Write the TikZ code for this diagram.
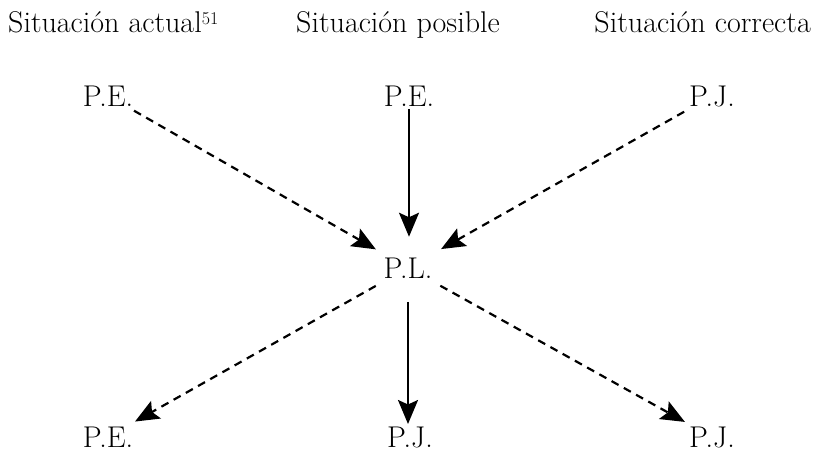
\documentclass[tikz,border=0pt]{standalone}
\usetikzlibrary{arrows.meta}
\begin{document}
\begin{tikzpicture}[x=1pt,y=-1pt,
  lbl/.style={inner sep=0pt,anchor=base,font=\fontsize{30}{34}\selectfont},
  ttl/.style={inner sep=0pt,font=\fontsize{30}{34}\selectfont},
  conn/.style={line width=2.2pt,-{Stealth[length=24pt,width=20pt,inset=4.5pt]}},
  dconn/.style={conn,dash pattern=on 8pt off 6pt}]
\useasboundingbox (0,0) rectangle (816,452);
\node[ttl,anchor=base west] (t1) at (8,33) {Situación actual\raisebox{8pt}{\fontsize{18}{18}\selectfont 51}};
\node[ttl,anchor=base] (t2) at (398,33) {Situación posible};
\node[ttl,anchor=base east] (t3) at (811,33) {Situación correcta};
\node[lbl] (pe1) at (108,106) {P.E.};
\node[lbl] (pe2) at (409,106) {P.E.};
\node[lbl] (pj1) at (712,106) {P.J.};
\node[lbl] (pl) at (408,278) {P.L.};
\node[lbl] (pe3) at (108,447) {P.E.};
\node[lbl] (pj2) at (410,447) {P.J.};
\node[lbl] (pj3) at (712,447) {P.J.};
\draw[dconn,shorten <=30pt,shorten >=37pt] (pe1.center) -- (pl.center);
\draw[conn,shorten <=13.5pt,shorten >=31pt] (pe2.center) -- (pe2.center |- pl.center);
\draw[dconn,shorten <=32pt,shorten >=38pt] (pj1.center) -- (pl.center);
\draw[dconn,shorten <=37pt,shorten >=31pt] (pl.center) -- (pe3.center);
\draw[conn,shorten <=34pt,shorten >=13pt] (pl.center) -- (pl.center |- pj2.center);
\draw[dconn,shorten <=37pt,shorten >=31pt] (pl.center) -- (pj3.center);
\end{tikzpicture}
\end{document}
